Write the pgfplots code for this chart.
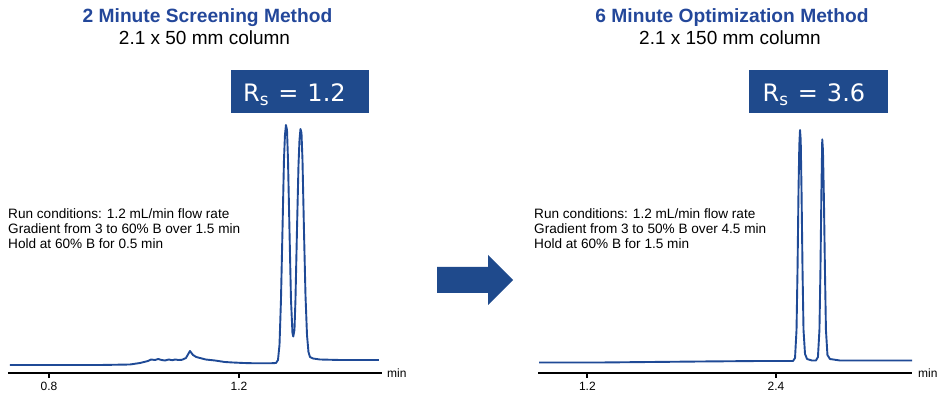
\documentclass[border=0pt]{standalone}
\usepackage{pgfplots}
\pgfplotsset{compat=1.18}
\usepackage{fontspec}
\setmainfont{Liberation Sans}
\newfontfamily\rsfont{DejaVu Sans}
\definecolor{chromblue}{HTML}{1F4A96}
\definecolor{boxblue}{HTML}{1F4A8C}
\definecolor{titleblue}{HTML}{23479A}

\pgfplotsset{
  chrom/.style={
    scale only axis, width=374pt, height=263pt,
    anchor=south west,
    axis x line*=bottom, axis y line=none,
    ymin=0, ymax=263,
    axis line style={black, line width=2.5pt},
    tick align=outside, major tick length=5pt,
    xtick style={black, line width=2pt},
    /pgf/number format/assume math mode=true,
    tick label style={font=\fontsize{12}{14}\selectfont},
    xticklabel style={yshift=-1pt},
    clip=false,
  }
}

\begin{document}
\begin{tikzpicture}[x=1pt,y=1pt]
\path[use as bounding box] (0pt,0pt) rectangle (950pt,398pt);

% ---------- left chromatogram ----------
\begin{axis}[chrom, at={(8pt,25pt)}, xmin=0.7137, xmax=1.5011, xtick={0.8,1.2},
  xticklabels={0.8,1.2}]
\addplot[chromblue, line width=1.9pt, line join=round] coordinates {
(0.7179,8) (0.8232,8) (0.9074,8) (0.9705,8.5) (0.9916,10) (1.0084,12)
(1.0150,13.5) (1.0232,13) (1.0300,14) (1.0370,13) (1.0442,12.5) (1.0520,13.5)
(1.0600,12.8) (1.0653,13.5) (1.0730,13) (1.0800,13.2) (1.0884,15) (1.0968,22)
(1.1032,18) (1.1100,16) (1.1179,15) (1.1300,13.5) (1.1495,12.5) (1.1700,11)
(1.1874,10.5) (1.2100,10) (1.2337,9.7) (1.2653,9.7) (1.2779,10) (1.2821,13)
(1.2853,28) (1.2884,73) (1.2916,143) (1.2947,213) (1.2968,238) (1.2989,248)
(1.3011,243) (1.3032,213) (1.3063,143) (1.3095,73) (1.3126,40) (1.3143,36.5)
(1.3168,43) (1.3189,73) (1.3221,143) (1.3253,208) (1.3274,233) (1.3295,244)
(1.3316,240) (1.3337,213) (1.3368,143) (1.3400,78) (1.3432,38) (1.3463,21)
(1.3495,16) (1.3558,14.5) (1.3705,13.5) (1.4126,13) (1.4947,13)
};
\node[anchor=west, font=\fontsize{12}{14}\selectfont, inner sep=0pt, xshift=5pt] at (rel axis cs:1,0) {min};
\end{axis}

% ---------- right chromatogram ----------
\begin{axis}[chrom, at={(538pt,25pt)}, xmin=0.886, xmax=3.265, xtick={1.2,2.4},
  xticklabels={1.2,2.4}]
\addplot[chromblue, line width=1.9pt, line join=round] coordinates {
(0.8924,10.5) (1.2804,10.5) (1.5985,11) (1.9165,11.5) (2.2982,12) (2.5081,12)
(2.5209,15) (2.5304,43) (2.5368,103) (2.5431,183) (2.5482,228) (2.5527,243)
(2.5571,233) (2.5622,183) (2.5686,103) (2.5749,43) (2.5845,19) (2.5972,14)
(2.6282,12.5) (2.6539,12.5) (2.6667,16) (2.6762,43) (2.6826,103) (2.6889,183)
(2.6940,233.7) (2.6985,223) (2.7048,173) (2.7112,103) (2.7176,43) (2.7271,18)
(2.7430,14) (2.8066,12.5) (3.2651,12.5)
};
\node[anchor=west, font=\fontsize{12}{14}\selectfont, inner sep=0pt, xshift=6pt] at (rel axis cs:1,0) {min};
\end{axis}

% ---------- titles ----------
\node[anchor=base, text=titleblue, font=\fontsize{19.2}{21}\selectfont\bfseries, inner sep=0pt] at (207.5pt,375.3pt) {2 Minute Screening Method};
\node[anchor=base, font=\fontsize{19}{21}\selectfont, inner sep=0pt] at (204.5pt,353pt) {2.1 x 50 mm column};
\node[anchor=base, text=titleblue, font=\fontsize{19.2}{21}\selectfont\bfseries, inner sep=0pt] at (732pt,375.3pt) {6 Minute Optimization Method};
\node[anchor=base, font=\fontsize{19}{21}\selectfont, inner sep=0pt] at (730pt,353pt) {2.1 x 150 mm column};

% ---------- Rs boxes ----------
\fill[boxblue] (231pt,285pt) rectangle (369pt,328pt);
\node[anchor=base west, text=white, font=\fontsize{24}{26}\rsfont, inner sep=0pt] at (243pt,296.3pt) {R\textsubscript{s}\hspace{1.5pt} =\hspace{1.5pt} 1.2};
\fill[boxblue] (749pt,285pt) rectangle (888pt,328pt);
\node[anchor=base west, text=white, font=\fontsize{24}{26}\rsfont, inner sep=0pt] at (762.5pt,296.3pt) {R\textsubscript{s}\hspace{1.5pt} =\hspace{1.5pt} 3.6};

% ---------- run conditions ----------
\node[anchor=base west, font=\fontsize{13.6}{15}\selectfont, inner sep=0pt, align=left] at (8pt,149.7pt)
  {Run conditions: 1.2 mL/min flow rate\\Gradient from 3 to 60\% B over 1.5 min\\Hold at 60\% B for 0.5 min};
\node[anchor=base west, font=\fontsize{13.6}{15}\selectfont, inner sep=0pt, align=left] at (534pt,149.7pt)
  {Run conditions: 1.2 mL/min flow rate\\Gradient from 3 to 50\% B over 4.5 min\\Hold at 60\% B for 1.5 min};

% ---------- arrow ----------
\fill[boxblue] (437pt,131pt) -- (488pt,131pt) -- (488pt,143pt) -- (513pt,118pt) -- (488pt,93pt) -- (488pt,105pt) -- (437pt,105pt) -- cycle;
\end{tikzpicture}
\end{document}
